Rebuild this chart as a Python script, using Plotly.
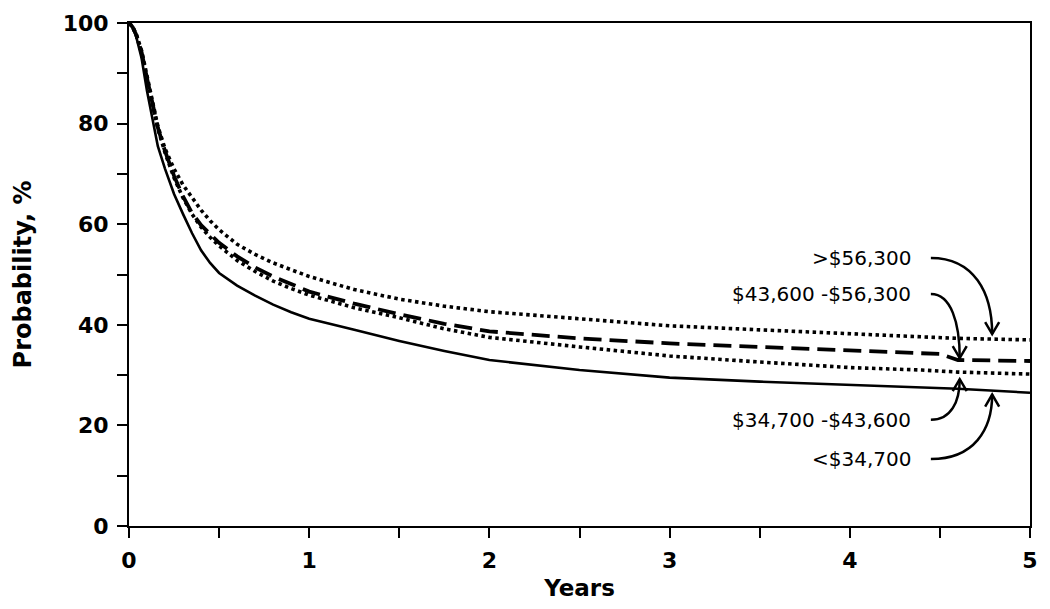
import numpy as np
import plotly.graph_objects as go

# ---- data ----
years = [0, 0.02, 0.04, 0.07, 0.1, 0.13, 0.16, 0.2, 0.25, 0.3, 0.35, 0.4, 0.45, 0.5,
         0.6, 0.7, 0.8, 0.9, 1.0, 1.25, 1.5, 1.75, 2.0, 2.5, 3.0, 3.5, 4.0, 4.4, 4.5, 4.6, 5.0]

inc_lt_34700 = [100, 99.1, 97.3, 93.0, 86.5, 81.0, 75.5, 71.0, 66.0, 62.0, 58.2, 54.8, 52.3, 50.3,
                47.8, 45.8, 44.0, 42.5, 41.2, 39.0, 36.8, 34.8, 33.0, 31.0, 29.5, 28.7, 28.0, 27.5, 27.4, 27.3, 26.5]

inc_34700_43600 = [100, 99.2, 97.6, 94.0, 88.8, 83.5, 79.0, 74.2, 69.2, 65.2, 62.0, 59.4, 57.4, 55.7,
                   52.8, 50.6, 48.7, 47.2, 45.9, 43.4, 41.4, 39.2, 37.5, 35.6, 33.8, 32.6, 31.5, 31.0, 30.8, 30.6, 30.2]

inc_43600_56300 = [100, 99.2, 97.7, 94.2, 89.0, 83.8, 79.2, 74.5, 69.6, 65.5, 62.2, 59.8, 58.0, 56.3,
                   53.6, 51.4, 49.6, 48.0, 46.6, 44.2, 42.1, 40.2, 38.7, 37.3, 36.3, 35.6, 34.9, 34.4, 34.2, 33.0, 32.8]

inc_gt_56300 = [100, 99.3, 97.8, 94.5, 89.5, 84.5, 79.5, 75.0, 71.0, 67.8, 65.2, 62.8, 60.7, 58.9,
                56.0, 54.0, 52.3, 50.9, 49.6, 47.0, 45.1, 43.7, 42.6, 41.2, 39.8, 39.0, 38.2, 37.5, 37.4, 37.3, 37.0]

labels = [">$56,300", "$43,600 -$56,300", "$34,700 -$43,600", "<$34,700"]
x_ticks = [0, 0.5, 1, 1.5, 2, 2.5, 3, 3.5, 4, 4.5, 5]
x_ticktext = ["0", "", "1", "", "2", "", "3", "", "4", "", "5"]
y_ticks = [0, 10, 20, 30, 40, 50, 60, 70, 80, 90, 100]
y_ticktext = ["0", "", "20", "", "40", "", "60", "", "80", "", "100"]

# ---- layout geometry (page body has an 8px margin) ----
W, H = 1034, 593
ML, MR, MT, MB = 121, 12, 15, 75
PX_X = (W - ML - MR) / 5.0     # px per year
PX_Y = (H - MT - MB) / 100.0   # px per %

def dx(px):
    return px / PX_X

def dy(px):
    return px / PX_Y

fig = go.Figure()
fig.add_trace(go.Scatter(x=years, y=inc_lt_34700, mode="lines",
                         line=dict(color="black", width=2.6), name=labels[3]))
fig.add_trace(go.Scatter(x=years, y=inc_34700_43600, mode="lines",
                         line=dict(color="black", width=3.6, dash="3.5px,3.5px"), name=labels[2]))
fig.add_trace(go.Scatter(x=years, y=inc_43600_56300, mode="lines",
                         line=dict(color="black", width=3.8, dash="18px,8px"), name=labels[1]))
fig.add_trace(go.Scatter(x=years, y=inc_gt_56300, mode="lines",
                         line=dict(color="black", width=3.6, dash="3.5px,3.5px"), name=labels[0]))

font_lbl = dict(family="DejaVu Sans", size=20, color="black")

# annotation config: label, label y (data), tip year, series, tip offset (px, + = above), direction
ann_cfg = [
    (labels[0], 53.3, 4.79, inc_gt_56300, 5.0, "down"),
    (labels[1], 46.1, 4.61, inc_43600_56300, 2.0, "down"),
    (labels[2], 21.1, 4.61, inc_34700_43600, -7.0, "up"),
    (labels[3], 13.3, 4.79, inc_lt_34700, -4.0, "up"),
]
text_right = 4.35
curve_start = text_right + dx(18)

for text, ly, tx, series, off, direction in ann_cfg:
    fig.add_annotation(x=text_right, y=ly, xref="x", yref="y", text=text, showarrow=False,
                       xanchor="right", yanchor="middle", font=font_lbl)
    ty = float(np.interp(tx, years, series)) + dy(off)
    x0, y0 = curve_start, ly
    c1x, c1y = x0 + 0.7 * (tx - x0), y0
    c2x, c2y = tx, y0 + 0.45 * (ty - y0)
    fig.add_shape(type="path", xref="x", yref="y",
                  path=f"M {x0},{y0} C {c1x},{c1y} {c2x},{c2y} {tx},{ty}",
                  line=dict(color="black", width=2.5))
    sgn = 1 if direction == "down" else -1
    ax1, ay1 = tx - dx(7), ty + sgn * dy(12)
    ax2, ay2 = tx + dx(7), ty + sgn * dy(12)
    fig.add_shape(type="path", xref="x", yref="y",
                  path=f"M {ax1},{ay1} L {tx},{ty} L {ax2},{ay2}",
                  line=dict(color="black", width=2.5))

axis_common = dict(showline=True, linecolor="black", linewidth=2, mirror=True,
                   ticks="outside", ticklen=10, tickwidth=2, tickcolor="black",
                   showgrid=False, zeroline=False, ticklabelstandoff=4, automargin=False,
                   tickfont=dict(family="DejaVu Sans", size=22, color="black", weight="bold"))

fig.update_layout(
    width=W, height=H,
    margin=dict(l=ML, r=MR, t=MT, b=MB, pad=0, autoexpand=False),
    paper_bgcolor="white", plot_bgcolor="white",
    showlegend=False,
    xaxis=dict(range=[0, 5], tickvals=x_ticks, ticktext=x_ticktext,
               title=dict(text="Years", standoff=15,
                          font=dict(family="DejaVu Sans", size=23, color="black", weight="bold")),
               **axis_common),
    yaxis=dict(range=[0, 100], tickvals=y_ticks, ticktext=y_ticktext,
               title=dict(text="Probability, %", standoff=24,
                          font=dict(family="DejaVu Sans", size=24, color="black", weight="bold")),
               **axis_common),
)

fig.write_html("out.html")
